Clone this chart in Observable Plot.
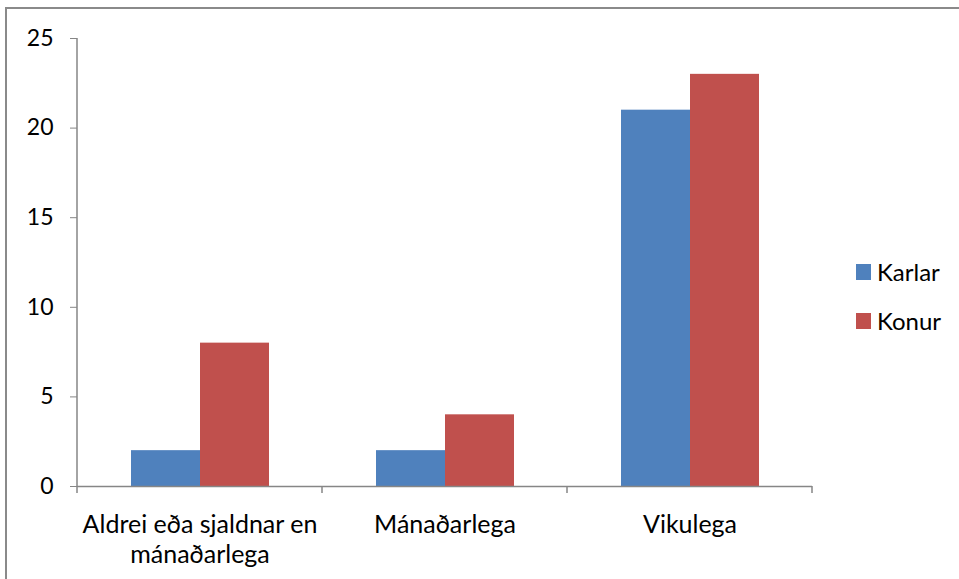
<!DOCTYPE html>
<html><head><meta charset="utf-8">
<script src="https://cdn.jsdelivr.net/npm/d3@7"></script>
<script src="https://cdn.jsdelivr.net/npm/@observablehq/plot@0.6"></script>
<style>
body{margin:0;background:#fff;}
#wrap{position:relative;width:959px;height:579px;overflow:hidden;font-family:Lato,"Open Sans",sans-serif;}
#border{position:absolute;left:5px;top:7px;width:1100px;height:700px;border:2px solid #8a8a8a;box-sizing:border-box;}
#chart{position:absolute;left:0;top:0;}
#legend{position:absolute;left:856px;top:247px;font-size:24px;color:#000;}
#legend .item{display:flex;align-items:center;height:49px;}
#legend .sw{width:15px;height:16px;margin-right:6px;}
</style></head>
<body>
<div id="wrap"><div id="border"></div><div id="chart"></div><div id="legend"></div></div>
<script>
const categories = ["Aldrei eða sjaldnar en mánaðarlega", "Mánaðarlega", "Vikulega"];
const tickLabels = ["Aldrei eða sjaldnar en\nmánaðarlega", "Mánaðarlega", "Vikulega"];
const seriesNames = ["Karlar", "Konur"];
const karlar = [2, 2, 21];
const konur = [8, 4, 23];
const yTicks = [0, 5, 10, 15, 20, 25];
const seriesColors = ["#4F81BD", "#C0504D"];

const rows = categories.flatMap((c, i) => [
  {category: c, series: seriesNames[0], value: karlar[i]},
  {category: c, series: seriesNames[1], value: konur[i]}
]);

const AXIS = "#868686";
const FS = 23;
const FSX = 25;
const plot = Plot.plot({
  width: 959, height: 579,
  marginLeft: 76, marginRight: 146, marginTop: 38, marginBottom: 93,
  style: {fontFamily: "Lato, 'Open Sans', sans-serif", fontSize: FS + "px", color: "#000", background: "transparent", overflow: "visible"},
  fx: {domain: categories, padding: 0, label: null, axis: null},
  x: {domain: seriesNames, paddingInner: 0, paddingOuter: 0.757, axis: null},
  y: {domain: [0, 25], label: null, axis: null},
  color: {domain: seriesNames, range: seriesColors},
  marks: [
    Plot.barY(rows, {fx: "category", x: "series", y: "value", fill: "series"}),
    Plot.ruleY([0], {stroke: AXIS, strokeWidth: 1.5}),
    Plot.axisY({ticks: yTicks, tickSize: 7, tickPadding: 17, stroke: AXIS, fill: "#000", fontSize: FS, label: null}),
    Plot.axisFx({anchor: "bottom", tickSize: 0, tickPadding: 25, tickFormat: (d) => tickLabels[categories.indexOf(d)], lineHeight: 1.2, fontSize: FSX, fill: "#000", label: null})
  ]
});
document.getElementById("chart").appendChild(plot);

// axis line and category boundary ticks, from Plot's own scales
const fx = plot.scale("fx"), y = plot.scale("y");
const svg = d3.select(plot);
const y0 = y.apply(0), yTop = y.apply(yTicks[yTicks.length - 1]);
const bounds = categories.map(c => fx.apply(c)).concat([fx.apply(categories[categories.length - 1]) + fx.bandwidth]);
const g = svg.append("g").attr("stroke", AXIS).attr("stroke-width", 1.5);
g.append("line").attr("x1", bounds[0]).attr("x2", bounds[0]).attr("y1", yTop).attr("y2", y0);
bounds.forEach(b => g.append("line").attr("x1", b).attr("x2", b).attr("y1", y0).attr("y2", y0 + 7));

// legend
const color = plot.scale("color");
const legend = d3.select("#legend");
color.domain.forEach((s, i) => {
  const it = legend.append("div").attr("class", "item");
  it.append("div").attr("class", "sw").style("background", color.range[i]);
  it.append("span").text(s);
});
</script>
</body></html>
